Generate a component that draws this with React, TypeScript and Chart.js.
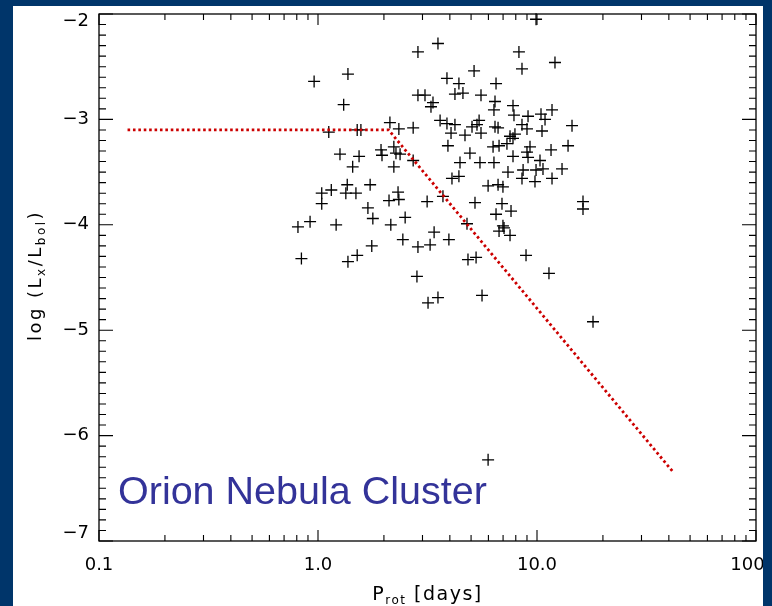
import React, { useEffect, useRef } from 'react';
import { Chart, registerables } from 'chart.js';

Chart.register(...registerables);

// Rotation period (days) of each star
const periodDays = [
  9.90, 3.53, 2.86, 8.27, 12.08, 8.54, 5.16, 1.37, 3.88, 0.96,
  4.40, 6.50, 2.86, 3.08, 4.22, 4.59, 5.55, 1.31, 3.35, 3.28,
  6.43, 6.36, 7.77, 7.85, 9.10, 10.43, 11.71, 10.88, 3.61, 3.88,
  4.22, 5.44, 5.05, 5.32, 6.43, 6.64, 8.54, 9.00, 10.54, 14.45,
  2.13, 2.34, 2.72, 1.12, 1.51, 1.57, 4.05, 4.69, 5.55, 7.53,
  7.93, 7.77, 1.26, 1.54, 1.94, 1.96, 2.22, 2.27, 2.37, 2.72,
  3.92, 6.30, 6.71, 7.29, 9.29, 11.59, 13.86, 4.94, 7.77, 9.00,
  9.10, 10.32, 4.45, 5.49, 6.36, 1.44, 2.22, 7.37, 8.64, 9.90,
  10.65, 13.01, 8.54, 9.79, 11.71, 4.09, 4.40, 5.98, 6.64, 6.99,
  1.36, 1.73, 1.04, 1.15, 1.34, 1.49, 2.32, 2.11, 2.34, 3.15, 3.72,
  1.04, 1.69, 1.78, 2.50, 5.21, 6.92, 7.61, 6.50, 16.22, 16.22,
  0.81, 0.92, 1.21, 2.15, 3.39, 4.79, 6.99, 6.71, 7.07, 7.53,
  3.96, 2.44, 2.86, 3.25, 1.76, 0.84, 1.37, 1.51, 8.91, 4.84,
  5.27, 11.34, 2.83, 3.18, 3.53, 5.61, 18.02, 5.98,
];

// log(Lx/Lbol) of each star
const logLxLbol = [
  -2.05, -2.28, -2.36, -2.36, -2.46, -2.52, -2.54, -2.57, -2.61, -2.64,
  -2.66, -2.66, -2.77, -2.77, -2.76, -2.75, -2.77, -2.86, -2.84, -2.88,
  -2.83, -2.91, -2.87, -2.96, -2.97, -2.95, -2.91, -3.00, -3.01, -3.04,
  -3.05, -3.01, -3.07, -3.05, -3.07, -3.08, -3.05, -3.09, -3.11, -3.06,
  -3.03, -3.09, -3.08, -3.12, -3.10, -3.10, -3.13, -3.15, -3.13, -3.16,
  -3.14, -3.18, -3.33, -3.35, -3.29, -3.34, -3.26, -3.32, -3.33, -3.39,
  -3.25, -3.26, -3.25, -3.23, -3.26, -3.29, -3.25, -3.32, -3.35, -3.31,
  -3.36, -3.39, -3.41, -3.41, -3.41, -3.45, -3.45, -3.50, -3.48, -3.48,
  -3.47, -3.47, -3.56, -3.59, -3.56, -3.56, -3.54, -3.63, -3.62, -3.64,
  -3.62, -3.62, -3.70, -3.67, -3.70, -3.70, -3.69, -3.77, -3.76, -3.78, -3.73,
  -3.80, -3.84, -3.94, -3.93, -3.79, -3.80, -3.87, -3.90, -3.78, -3.85,
  -4.02, -3.97, -4.00, -4.00, -4.07, -3.99, -4.01, -4.06, -4.03, -4.10,
  -4.14, -4.14, -4.21, -4.19, -4.20, -4.32, -4.35, -4.29, -4.29, -4.33,
  -4.31, -4.46, -4.49, -4.74, -4.69, -4.67, -4.92, -6.23,
];

// Saturation + decline relation (red dotted)
const relationPeriod = [0.135, 2.1, 42];
const relationLog = [-3.1, -3.1, -6.35];

const xTickValues = [0.1, 1, 10, 100];
const xTickLabels = ['0.1', '1.0', '10.0', '100'];
const yTickValues = [-7, -6, -5, -4, -3, -2];
const yTickLabels = ['\u22127', '\u22126', '\u22125', '\u22124', '\u22123', '\u22122'];

const plotLabel = 'Orion Nebula Cluster';

const NAVY = '#00356a';
const LABEL_FONT = '"DejaVu Sans", "Liberation Sans", sans-serif';

type Part = { t: string; sub?: boolean };

function drawRich(ctx: CanvasRenderingContext2D, parts: Part[], cx: number, baseline: number,
  baseFont: string, subFont: string, subDrop: number, spacing: number) {
  (ctx as any).letterSpacing = spacing + 'px';
  ctx.textAlign = 'left';
  ctx.textBaseline = 'alphabetic';
  let total = 0;
  const widths = parts.map((p) => {
    ctx.font = p.sub ? subFont : baseFont;
    const w = ctx.measureText(p.t).width;
    total += w;
    return w;
  });
  let x = cx - total / 2;
  parts.forEach((p, i) => {
    ctx.font = p.sub ? subFont : baseFont;
    ctx.fillText(p.t, x, baseline + (p.sub ? subDrop : 0));
    x += widths[i];
  });
  (ctx as any).letterSpacing = '0px';
}

const decorPlugin = {
  id: 'decor',
  beforeDraw(chart: any) {
    const ctx = chart.ctx as CanvasRenderingContext2D;
    ctx.save();
    ctx.fillStyle = NAVY;
    ctx.fillRect(0, 0, chart.width, chart.height);
    ctx.fillStyle = '#ffffff';
    ctx.fillRect(13, 6, 750, chart.height - 6);
    ctx.restore();
  },
  afterDatasetsDraw(chart: any) {
    const ctx = chart.ctx as CanvasRenderingContext2D;
    const a = chart.chartArea;
    const xs = chart.scales.x;
    const ys = chart.scales.y;
    ctx.save();
    // frame
    ctx.strokeStyle = '#000';
    ctx.lineWidth = 1.3;
    ctx.strokeRect(a.left, a.top, a.right - a.left, a.bottom - a.top);
    // ticks
    ctx.lineWidth = 1.1;
    ctx.beginPath();
    const xMinor: number[] = [];
    [0.1, 1, 10].forEach((d) => { for (let k = 2; k <= 9; k++) xMinor.push(d * k); });
    xTickValues.forEach((v) => {
      const p = xs.getPixelForValue(v);
      ctx.moveTo(p, a.bottom); ctx.lineTo(p, a.bottom - 11);
      ctx.moveTo(p, a.top); ctx.lineTo(p, a.top + 11);
    });
    xMinor.forEach((v) => {
      const p = xs.getPixelForValue(v);
      ctx.moveTo(p, a.bottom); ctx.lineTo(p, a.bottom - 6);
      ctx.moveTo(p, a.top); ctx.lineTo(p, a.top + 6);
    });
    for (let i = -70; i <= -20; i++) {
      const v = i / 10;
      const p = ys.getPixelForValue(v);
      const len = i % 10 === 0 ? 14 : 7;
      ctx.moveTo(a.left, p); ctx.lineTo(a.left + len, p);
      ctx.moveTo(a.right, p); ctx.lineTo(a.right - len, p);
    }
    ctx.stroke();

    // in-plot label
    ctx.fillStyle = '#333399';
    ctx.font = '39.5px "Liberation Sans", Arial, sans-serif';
    ctx.textAlign = 'left';
    ctx.textBaseline = 'alphabetic';
    ctx.fillText(plotLabel, 118, 504);

    // axis titles
    ctx.fillStyle = '#000';
    const cx = (a.left + a.right) / 2;
    drawRich(ctx, [{ t: 'P' }, { t: 'rot', sub: true }, { t: ' [days]' }], cx, 600,
      '19px ' + LABEL_FONT, '12px ' + LABEL_FONT, 4, 1.5);
    ctx.save();
    ctx.translate(41, (a.top + a.bottom) / 2 - 2);
    ctx.rotate(-Math.PI / 2);
    drawRich(ctx, [{ t: 'log (L' }, { t: 'x', sub: true }, { t: '/L' }, { t: 'bol', sub: true }, { t: ')' }],
      0, 0, '18px ' + LABEL_FONT, '12px ' + LABEL_FONT, 4, 2.5);
    ctx.restore();
    ctx.restore();
  },
  afterDraw(chart: any) {
    const ctx = chart.ctx as CanvasRenderingContext2D;
    ctx.save();
    ctx.fillStyle = NAVY;
    ctx.fillRect(763, 0, chart.width - 763, chart.height);
    ctx.restore();
  },
};

export default function App() {
  const ref = useRef<HTMLCanvasElement | null>(null);
  useEffect(() => {
    if (!ref.current) return;
    const stars = periodDays.map((p, i) => ({ x: p, y: logLxLbol[i] }));
    const relation = relationPeriod.map((p, i) => ({ x: p, y: relationLog[i] }));
    const chart = new Chart(ref.current, {
      type: 'scatter',
      data: {
        datasets: [
          {
            label: 'relation',
            data: relation,
            showLine: true,
            borderColor: '#cc0000',
            borderWidth: 2.8,
            borderDash: [2.6, 2.8],
            pointRadius: 0,
            fill: false,
            tension: 0,
          } as any,
          {
            label: 'ONC stars',
            data: stars,
            pointStyle: 'cross',
            pointRadius: 6,
            pointHoverRadius: 6,
            borderColor: '#000000',
            backgroundColor: '#000000',
            borderWidth: 1.3,
            clip: 10,
          } as any,
        ],
      },
      options: {
        animation: false,
        responsive: false,
        events: [],
        layout: { padding: { left: 0, top: 14, right: 16, bottom: 0 } },
        plugins: { legend: { display: false }, tooltip: { enabled: false } },
        scales: {
          x: {
            type: 'logarithmic',
            min: 0.1,
            max: 100,
            grid: { display: false, drawTicks: false },
            border: { display: false },
            afterBuildTicks: (s: any) => { s.ticks = xTickValues.map((v) => ({ value: v })); },
            afterFit: (s: any) => { s.height = 65; s.paddingLeft = 0; s.paddingRight = 0; },
            ticks: {
              autoSkip: false,
              maxRotation: 0,
              padding: 14,
              color: '#000',
              font: { family: LABEL_FONT, size: 18 },
              // last label sits a little inside the right edge, as in the original
              callback: (_v: any, i: number) =>
                i === xTickLabels.length - 1 ? xTickLabels[i] + '   ' : xTickLabels[i],
            },
          },
          y: {
            type: 'linear',
            min: -7,
            max: -2,
            grid: { display: false, drawTicks: false },
            border: { display: false },
            afterBuildTicks: (s: any) => { s.ticks = yTickValues.map((v) => ({ value: v })); },
            afterFit: (s: any) => { s.width = 99; s.paddingTop = 0; s.paddingBottom = 0; },
            ticks: {
              padding: 10,
              color: '#000',
              font: { family: LABEL_FONT, size: 18, lineHeight: 0.8 },
              // end labels are nudged inside the frame, as in the original
              callback: (_v: any, i: number) => {
                if (i === 0) return [yTickLabels[i], ''];
                if (i === yTickLabels.length - 1) return ['', yTickLabels[i]];
                return yTickLabels[i];
              },
            },
          },
        },
      } as any,
      plugins: [decorPlugin],
    });
    return () => chart.destroy();
  }, []);
  return (
    <div style={{ position: 'absolute', left: 0, top: 0, width: 772, height: 606 }}>
      <canvas ref={ref} width={772} height={606} style={{ display: 'block', width: 772, height: 606 }} />
    </div>
  );
}
